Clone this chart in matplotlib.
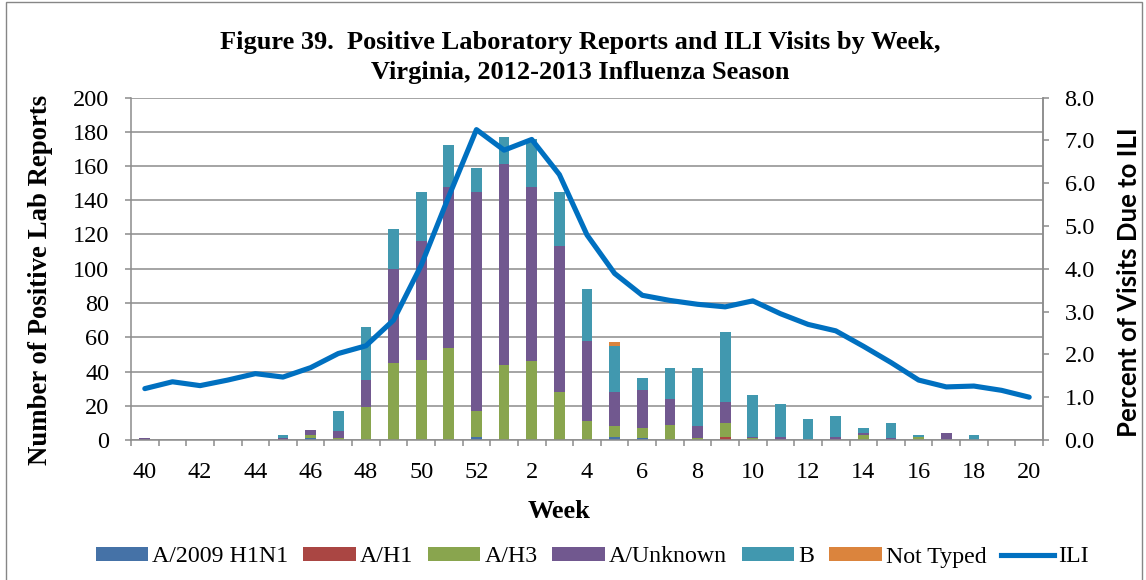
import matplotlib
matplotlib.use('Agg')
import matplotlib.pyplot as plt
import numpy as np
from matplotlib.patches import Rectangle, Patch
from matplotlib.lines import Line2D

# ---------------- data ----------------
weeks = list(range(40, 53)) + list(range(1, 21))
#            40 41 42 43 44 45 46 47 48  49  50  51  52   1   2   3   4   5   6   7   8   9  10  11  12  13  14  15  16  17  18  19  20
h1n1_2009 = [0, 0, 0, 0, 0, 0, 1, 0, 0,  0,  0,  0,  2,  0,  0,  0,  0,  2,  1,  0,  0,  0,  0,  0,  0,  0,  0,  0,  0,  0,  0,  0,  0]
a_h1      = [0, 0, 0, 0, 0, 0, 0, 0, 0,  0,  0,  0,  0,  0,  0,  0,  0,  0,  0,  0,  0,  2,  0,  0,  0,  0,  0,  0,  0,  0,  0,  0,  0]
a_h3      = [0, 0, 0, 0, 0, 0, 2, 1, 19, 45, 47, 54, 15, 44, 46, 28, 11, 6,  6,  9,  1,  8,  1,  0,  0,  0,  3,  0,  2,  0,  0,  0,  0]
a_unknown = [1, 0, 0, 0, 0, 1, 3, 4, 16, 55, 69, 94, 128, 117, 102, 85, 47, 20, 22, 15, 7, 12, 1, 2,  0,  2,  1,  1,  0,  4,  0,  0,  0]
b_flu     = [0, 0, 0, 0, 0, 2, 0, 12, 31, 23, 29, 24, 14, 16, 28, 32, 30, 27, 7, 18, 34, 41, 24, 19, 12, 12, 3,  9,  1,  0,  3,  0,  0]
not_typed = [0, 0, 0, 0, 0, 0, 0, 0, 0,  0,  0,  0,  0,  0,  0,  0,  0,  2,  0,  0,  0,  0,  0,  0,  0,  0,  0,  0,  0,  0,  0,  0,  0]
ili_pct   = [1.20, 1.36, 1.27, 1.40, 1.55, 1.47, 1.69, 2.02, 2.20, 2.80, 4.08, 5.69, 7.25,
             6.77, 7.02, 6.20, 4.79, 3.89, 3.38, 3.26, 3.17, 3.11, 3.25, 2.95, 2.70, 2.55,
             2.19, 1.81, 1.40, 1.24, 1.26, 1.16, 1.00]

series_names = ['A/2009 H1N1', 'A/H1', 'A/H3', 'A/Unknown', 'B', 'Not Typed']
series_vals = [h1n1_2009, a_h1, a_h3, a_unknown, b_flu, not_typed]
series_colors = ['#4572A7', '#AA4643', '#89A54E', '#71588F', '#4198AF', '#DB843D']
ili_color = '#0070C0'
grid_col = '#8C8C8C'

serif = 'Liberation Serif'

W, H = 1146, 580
fig = plt.figure(figsize=(W / 100, H / 100), dpi=100)
L, R, B, T = 131, 1043, 440, 97.5
ax = fig.add_axes([L / W, 1 - B / H, (R - L) / W, (B - T) / H])

x = np.arange(len(weeks))
bottom = np.zeros(len(weeks))
for name, vals, col in zip(series_names, series_vals, series_colors):
    v = np.array(vals, dtype=float)
    ax.bar(x, v, width=0.39, bottom=bottom, color=col, linewidth=0, zorder=2)
    bottom += v

ax.set_xlim(-0.5, len(weeks) - 0.5)
ax.set_ylim(0, 200)
ax.set_yticks(np.arange(0, 201, 20))
ax.yaxis.grid(True, color=grid_col, linewidth=1.1, zorder=0)
ax.set_axisbelow(True)

ax.spines['top'].set_visible(False)
for s in ['left', 'right', 'bottom']:
    ax.spines[s].set_color(grid_col)
    ax.spines[s].set_linewidth(1.1)

ax.set_xticks(x[::2])
ax.set_xticklabels([str(w) for w in weeks[::2]])
ax.set_xticks(np.arange(-0.5, len(weeks), 1), minor=True)
ax.tick_params(axis='x', which='major', length=0, pad=16, labelsize=17.5)
ax.tick_params(axis='x', which='minor', length=4.5, color=grid_col, width=1.1)
ax.tick_params(axis='y', which='major', length=4.5, color=grid_col, width=1.1, pad=11, labelsize=17.5)
for lab in ax.get_xticklabels() + ax.get_yticklabels():
    lab.set_fontfamily(serif)

ax2 = ax.twinx()
ax2.plot(x, ili_pct, color=ili_color, linewidth=3.7, solid_joinstyle='round', solid_capstyle='round', zorder=5)
ax2.set_ylim(0, 8)
ax2.set_yticks(np.arange(0, 8.01, 1))
ax2.set_yticklabels([f'{v:.1f}' for v in np.arange(0, 8.01, 1)])
ax2.tick_params(axis='y', length=4.5, color=grid_col, width=1.1, pad=11, labelsize=17.5)
for lab in ax2.get_yticklabels():
    lab.set_fontfamily(serif)
for s in ['top', 'left', 'bottom']:
    ax2.spines[s].set_visible(False)
ax2.spines['right'].set_color(grid_col)
ax2.spines['right'].set_linewidth(1.1)

# titles & labels
fig.text(580 / W, 1 - 42 / H, 'Figure 39.  Positive Laboratory Reports and ILI Visits by Week,',
         ha='center', va='center', fontsize=19, fontweight='bold', fontfamily=serif)
fig.text(580 / W, 1 - 72 / H, 'Virginia, 2012-2013 Influenza Season',
         ha='center', va='center', fontsize=19, fontweight='bold', fontfamily=serif)
fig.text(41 / W, 1 - 280 / H, 'Number of Positive Lab Reports', rotation=90,
         ha='center', va='center', fontsize=19.3, fontweight='bold', fontfamily=serif)
fig.text(1129 / W, 1 - 282 / H, 'Percent of Visits Due to ILI', rotation=90,
         ha='center', va='center', fontsize=18.5, fontweight='bold', fontfamily='Lato')
fig.text(559 / W, 1 - 512 / H, 'Week', ha='center', va='center',
         fontsize=19, fontweight='bold', fontfamily=serif)

handles = [Patch(facecolor=c, edgecolor='none') for c in series_colors]
handles.append(Line2D([0], [0], color=ili_color, linewidth=3.7))
labels = series_names + ['ILI']
fig.legend(handles, labels, loc='center', bbox_to_anchor=(592 / W, 1 - 557 / H), ncol=7,
           frameon=False, prop={'family': serif, 'size': 17.2}, handlelength=2.2,
           handleheight=0.55, handletextpad=0.17, columnspacing=0.62, borderaxespad=0)

fig.patches.append(Rectangle((6 / W, -0.02), (1142 - 6) / W, 1.02 - 2 / H, transform=fig.transFigure,
                             fill=False, edgecolor='#868686', linewidth=1.0))

fig.savefig('out.png', dpi=100)
